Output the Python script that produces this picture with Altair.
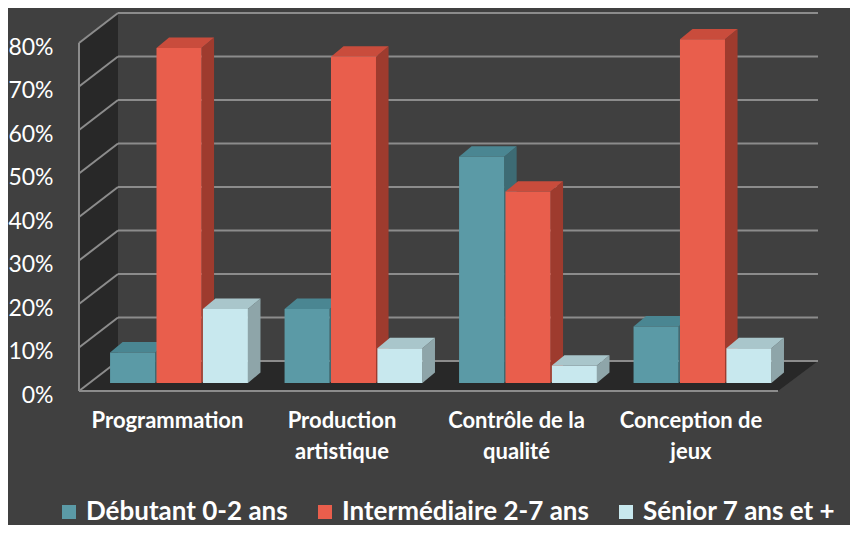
import json
import altair as alt
import pandas as pd

# ---------------- data ----------------
categories = ["Programmation", "Production artistique", "Contrôle de la qualité", "Conception de jeux"]
category_lines = [["Programmation"], ["Production", "artistique"], ["Contrôle de la", "qualité"], ["Conception de", "jeux"]]
series_names = ["Débutant 0-2 ans", "Intermédiaire 2-7 ans", "Sénior 7 ans et +"]
debutant = [7, 17, 52, 13]
intermediaire = [77, 75, 44, 79]
senior = [17, 8, 4, 8]
y_ticks = [0, 10, 20, 30, 40, 50, 60, 70, 80]

# ---------------- styles ----------------
front_colors = ["#5b9aa6", "#e95e4c", "#c8e8ee"]
side_colors = ["#3d6b74", "#9e3b2e", "#8ea5a9"]
top_colors = ["#4a8692", "#c94c3c", "#a9c6cb"]
BG = "#404040"
WALL = "#282828"
GRID = "#8c8c8c"

# geometry (x in category units, y in percent units)
X_MIN, X_MAX = -0.573, 3.662
Y_MAX = 86.9
WALL_DX, WALL_DY = 0.2235, 6.9
FLOOR_RIGHT_FRONT = 3.433
BAR_W = 0.258
BAR_STEP = 0.266
BAR_BASE = 1.84
BAR_DX, BAR_DY = 0.072, 2.4

values = [debutant, intermediaire, senior]
front_rows, side_rows, top_rows = [], [], []
for j, s in enumerate(series_names):
    for i, c in enumerate(categories):
        v = values[j][i]
        center = i + (j - 1) * BAR_STEP
        left, right = center - BAR_W / 2, center + BAR_W / 2
        top = BAR_BASE + v
        bid = f"{i}-{j}"
        front_rows.append(dict(series=s, category=c, value=v, left=left, right=right,
                               base=BAR_BASE, top=top))
        side_rows += [dict(bar=bid, x=right, lo=BAR_BASE, hi=top, fill=side_colors[j]),
                      dict(bar=bid, x=right + BAR_DX, lo=BAR_BASE + BAR_DY, hi=top + BAR_DY, fill=side_colors[j])]
        top_rows += [dict(bar=bid, y=top, xl=left, xr=right, fill=top_colors[j]),
                     dict(bar=bid, y=top + BAR_DY, xl=left + BAR_DX, xr=right + BAR_DX, fill=top_colors[j])]

front_df = pd.DataFrame(front_rows)
side_df = pd.DataFrame(side_rows)
top_df = pd.DataFrame(top_rows)

wall_df = pd.DataFrame([dict(x=X_MIN, lo=0, hi=y_ticks[-1]),
                        dict(x=X_MIN + WALL_DX, lo=WALL_DY, hi=y_ticks[-1] + WALL_DY)])
floor_df = pd.DataFrame([dict(y=0, xl=X_MIN, xr=FLOOR_RIGHT_FRONT),
                         dict(y=WALL_DY, xl=X_MIN + WALL_DX, xr=X_MAX)])

grid_rows = []
for t in y_ticks:
    grid_rows.append(dict(x=X_MIN + WALL_DX, x2=X_MAX, y=t + WALL_DY, y2=t + WALL_DY))
    grid_rows.append(dict(x=X_MIN, x2=X_MIN + WALL_DX, y=t, y2=t + WALL_DY))
grid_rows.append(dict(x=X_MIN, x2=X_MIN, y=0, y2=y_ticks[-1]))
grid_rows.append(dict(x=X_MIN, x2=FLOOR_RIGHT_FRONT, y=0, y2=0))
grid_df = pd.DataFrame(grid_rows)

xs = alt.Scale(domain=[X_MIN, X_MAX], nice=False, zero=False)
ys = alt.Scale(domain=[0, Y_MAX], nice=False, zero=False)

x_label_expr = json.dumps(category_lines, ensure_ascii=False) + "[datum.value]"
x_axis = alt.Axis(
    values=[0, 1, 2, 3], labelExpr=x_label_expr, title=None, grid=False,
    domain=False, ticks=False, tickSize=0, labelPadding=19, labelOffset=-12,
    labelFont="Lato", labelFontSize=22, labelFontWeight="bold", labelColor="#ffffff",
    labelLineHeight=31, labelOverlap=False, labelFlush=False, labelBound=False)
y_axis = alt.Axis(
    values=y_ticks, labelExpr="datum.value + '%'", title=None, grid=False,
    domain=False, ticks=False, tickSize=0, labelPadding=26, labelOffset=4,
    labelFont="Lato", labelFontSize=23, labelColor="#ffffff",
    labelOverlap=False, labelFlush=False, labelBound=False)


def X(field):
    return alt.X(field, scale=xs, axis=x_axis, title=None)


def Y(field):
    return alt.Y(field, scale=ys, axis=y_axis, title=None)


wall = alt.Chart(wall_df).mark_area(orient="vertical", color=WALL, opacity=1).encode(
    x=X("x:Q"), y=Y("lo:Q"), y2="hi:Q",
)
floor = alt.Chart(floor_df).mark_area(orient="horizontal", color=WALL, opacity=1).encode(
    y=Y("y:Q"), x=X("xl:Q"), x2="xr:Q",
)
grid = alt.Chart(grid_df).mark_rule(color=GRID, strokeWidth=2).encode(
    x=X("x:Q"), x2="x2:Q", y=Y("y:Q"), y2="y2:Q",
)
sides = alt.Chart(side_df).mark_area(orient="vertical", opacity=1).encode(
    x=X("x:Q"), y=Y("lo:Q"), y2="hi:Q",
    detail="bar:N",
    fill=alt.Fill("fill:N", scale=None),
)
tops = alt.Chart(top_df).mark_area(orient="horizontal", opacity=1).encode(
    y=Y("y:Q"), x=X("xl:Q"), x2="xr:Q",
    detail="bar:N",
    fill=alt.Fill("fill:N", scale=None),
)
fronts = alt.Chart(front_df).mark_bar(opacity=1).encode(
    x=X("left:Q"), x2="right:Q",
    y=Y("base:Q"), y2="top:Q",
    color=alt.Color("series:N", sort=series_names,
                    scale=alt.Scale(domain=series_names, range=front_colors),
                    legend=alt.Legend(
                        title=None, orient="none", legendX=-23, legendY=486,
                        direction="horizontal", symbolType="square", symbolSize=196,
                        symbolStrokeWidth=0, symbolOpacity=1, labelFont="Lato",
                        labelFontSize=26, labelFontWeight="bold", labelColor="#ffffff",
                        labelOffset=4, columnPadding=24, labelLimit=0, padding=0)),
    tooltip=["category:N", "series:N", "value:Q"],
)

chart = alt.layer(wall, floor, grid, sides, tops, fronts).properties(
    width=739, height=378,
    autosize=alt.AutoSizeParams(type="none"),
    padding={"left": 71, "top": 5, "right": 32, "bottom": 134},
    background=BG,
).configure_view(stroke=None)

chart.save("out.html", embed_options={"renderer": "svg", "actions": False})
